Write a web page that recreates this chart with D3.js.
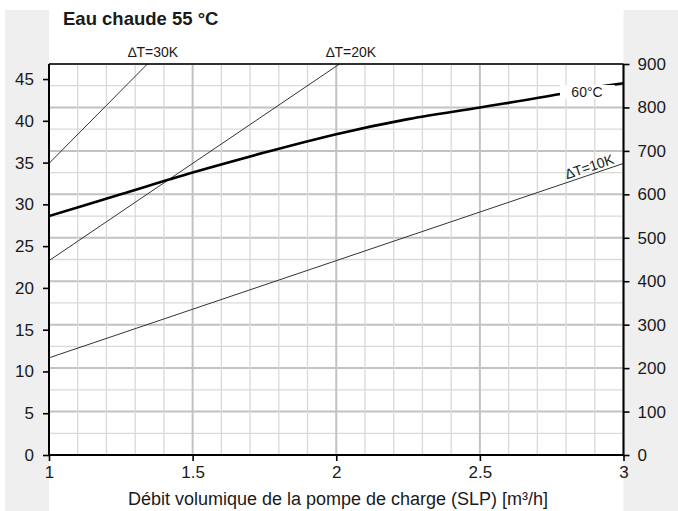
<!DOCTYPE html>
<html><head><meta charset="utf-8">
<script src="https://cdn.jsdelivr.net/npm/d3@7"></script>
<style>
html,body{margin:0;padding:0;background:#fff;}
text{font-family:"Liberation Sans",Arial,sans-serif;fill:#1a1a1a;}
</style></head>
<body>
<svg id="chart" width="678" height="511"></svg>
<script>
// ---- data ----
const title = "Eau chaude 55 °C";
const xLabel = "Débit volumique de la pompe de charge (SLP) [m³/h]";
const xTicks = [1, 1.5, 2, 2.5, 3];
const leftTicks = [0, 5, 10, 15, 20, 25, 30, 35, 40, 45];
const rightTicks = [0, 100, 200, 300, 400, 500, 600, 700, 800, 900];
// 60 °C curve (flow m³/h, power kW)
const curveFlow = [1.0, 1.25, 1.5, 1.75, 2.0, 2.25, 2.5, 2.78, 2.9, 3.0];
const curvePower = [28.6, 31.2, 33.8, 36.2, 38.4, 40.2, 41.6, 43.2, 44.0, 44.5];
// ΔT lines (end points, clipped to plot)
const dtNames = ["∆T=10K", "∆T=20K", "∆T=30K"];
const dtFlow = [[1, 3], [1, 2.05], [1, 1.4]];
const dtPower = [[11.63, 34.9], [23.26, 47.7], [34.9, 48.8]];

// ---- layout ----
const L = 49, R = 623.5, T = 64, B = 455;
const svg = d3.select("#chart");
const x = d3.scaleLinear().domain([1, 3]).range([L, R]);
const yL = d3.scaleLinear().domain([0, 46.8]).range([B, T]);
const yR = d3.scaleLinear().domain([0, 900]).range([B, T]);

// side panels
svg.append("rect").attr("x", 5).attr("y", 10).attr("width", L - 5).attr("height", 501).attr("fill", "#efefef");
svg.append("rect").attr("x", R).attr("y", 10).attr("width", 678 - R).attr("height", 501).attr("fill", "#efefef");

// grid
const g = svg.append("g");
const hGrid = d3.range(0, 901, 50);
g.selectAll("line.h").data(hGrid).join("line")
  .attr("x1", L).attr("x2", R)
  .attr("y1", d => yR(d)).attr("y2", d => yR(d))
  .attr("stroke", d => d % 100 === 0 ? "#c2c2c2" : "#d9d9d9")
  .attr("stroke-width", d => d % 100 === 0 ? 2 : 1.3);
const vGrid = d3.range(10, 31).map(d => d / 10);
g.selectAll("line.v").data(vGrid).join("line")
  .attr("y1", T).attr("y2", B)
  .attr("x1", d => x(d)).attr("x2", d => x(d))
  .attr("stroke", (d, i) => (i % 5 === 0) ? "#c2c2c2" : "#d9d9d9")
  .attr("stroke-width", (d, i) => (i % 5 === 0) ? 2 : 1.3);

svg.append("clipPath").attr("id", "clip").append("rect")
  .attr("x", L).attr("y", T).attr("width", R - L).attr("height", B - T);

// ΔT lines
const line = d3.line().x(d => x(d[0])).y(d => yL(d[1]));
const plot = svg.append("g").attr("clip-path", "url(#clip)");
dtFlow.forEach((f, i) => {
  const pts = f.map((v, j) => [v, dtPower[i][j]]);
  plot.append("path").attr("d", line(pts)).attr("fill", "none")
    .attr("stroke", "#333").attr("stroke-width", 1);
});

// 60°C curve
const cpts = curveFlow.map((v, i) => [v, curvePower[i]]);
plot.append("path").attr("d", line.curve(d3.curveMonotoneX)(cpts))
  .attr("fill", "none").attr("stroke", "#000").attr("stroke-width", 2.6);
// label with white box
svg.append("rect").attr("x", 560).attr("y", 85).attr("width", 55).attr("height", 13.5).attr("fill", "#fff");
svg.append("text").attr("x", 587).attr("y", 96.5).attr("text-anchor", "middle")
  .attr("font-size", 14).text("60°C");

// ΔT labels
svg.append("text").attr("x", 153).attr("y", 57).attr("text-anchor", "middle").attr("font-size", 14).text(dtNames[2]);
svg.append("text").attr("x", 351).attr("y", 57).attr("text-anchor", "middle").attr("font-size", 14).text(dtNames[1]);
{
  const x0 = x(dtFlow[0][0]), y0 = yL(dtPower[0][0]), x1 = x(dtFlow[0][1]), y1 = yL(dtPower[0][1]);
  const ang = Math.atan2(y1 - y0, x1 - x0) * 180 / Math.PI;
  const cx = 592, cy = y0 + (y1 - y0) * (cx - x0) / (x1 - x0);
  svg.append("text").attr("transform", `translate(${cx},${cy}) rotate(${ang})`)
    .attr("y", -3).attr("text-anchor", "middle").attr("font-size", 14).text(dtNames[0]);
}

// axes frame
svg.append("line").attr("x1", L).attr("x2", R).attr("y1", T).attr("y2", T).attr("stroke", "#000").attr("stroke-width", 1.6);
const axL = svg.append("g").attr("transform", `translate(${L},0)`)
  .call(d3.axisLeft(yL).tickValues(leftTicks).tickSize(6).tickPadding(9));
const axR = svg.append("g").attr("transform", `translate(${R},0)`)
  .call(d3.axisRight(yR).tickValues(rightTicks).tickSize(6).tickPadding(8));
const axB = svg.append("g").attr("transform", `translate(0,${B})`)
  .call(d3.axisBottom(x).tickValues(xTicks).tickFormat(d3.format("")).tickSize(6).tickPadding(5));
[axL, axR, axB].forEach(a => {
  a.select(".domain").attr("stroke", "#000").attr("stroke-width", 2);
  a.selectAll(".tick line").attr("stroke", "#000").attr("stroke-width", 1.6);
  a.selectAll(".tick text").attr("font-size", 17).attr("fill", "#1a1a1a")
    .attr("font-family", "Liberation Sans, Arial, sans-serif");
});
axL.select(".domain").attr("d", `M0,${T}V${B}`);
axR.select(".domain").attr("d", `M0,${T}V${B}`);
axB.select(".domain").attr("d", `M${L},0H${R}`);

// title and x label
svg.append("text").attr("x", 63).attr("y", 25).attr("font-size", 18.5).attr("font-weight", "bold").text(title);
svg.append("text").attr("x", 338).attr("y", 505).attr("text-anchor", "middle").attr("font-size", 18).text(xLabel);
</script>
</body></html>
